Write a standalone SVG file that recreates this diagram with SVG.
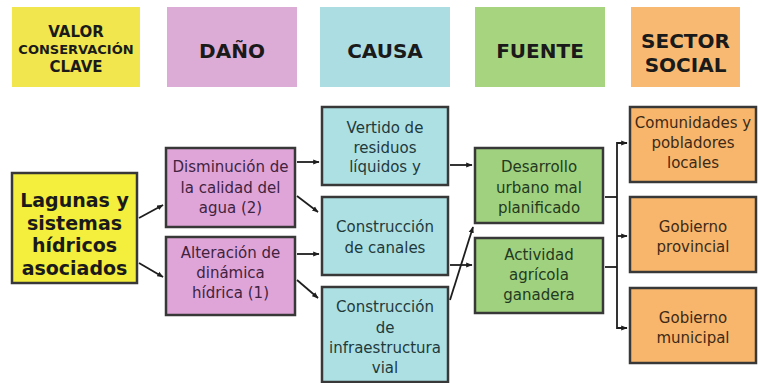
<svg xmlns="http://www.w3.org/2000/svg" width="758" height="383" viewBox="0 0 758 383">
<style>
text{font-family:"DejaVu Sans","Verdana",sans-serif;text-anchor:middle}
.h{font-weight:bold;fill:#1a1a1a}
.box{stroke:#383838;stroke-width:2.5}
.t{font-size:15px}
.pk{fill:#3f2340}.cy{fill:#1f3a3c}.gr{fill:#233a1f}.or{fill:#3d2a16}
.c{stroke:#1e1e1e;stroke-width:1.8;fill:none}
</style>
<defs>
<marker id="ah" viewBox="0 0 10 10" refX="9" refY="5" markerWidth="3.6" markerHeight="3.6" orient="auto" markerUnits="strokeWidth">
<path d="M0,1 L10,5 L0,9 z" fill="#1e1e1e"/>
</marker>
</defs>
<rect width="758" height="383" fill="#ffffff"/>
<g id="header-valor">
<rect x="12" y="7" width="128" height="80" fill="#f1e64d"/>
<text class="h" x="76" y="37" font-size="15">VALOR</text>
<text class="h" x="76" y="54" font-size="13">CONSERVACIÓN</text>
<text class="h" x="76" y="72" font-size="15">CLAVE</text>
</g>
<g id="header-dano">
<rect x="167" y="7" width="130" height="80" fill="#dcabd6"/>
<text class="h" x="232" y="58" font-size="20">DAÑO</text>
</g>
<g id="header-causa">
<rect x="320" y="7" width="130" height="80" fill="#acdde2"/>
<text class="h" x="385" y="58" font-size="20">CAUSA</text>
</g>
<g id="header-fuente">
<rect x="475" y="7" width="130" height="80" fill="#a7d47f"/>
<text class="h" x="540" y="58" font-size="20">FUENTE</text>
</g>
<g id="header-sector">
<rect x="631" y="7" width="109" height="80" fill="#f8ba72"/>
<text class="h" x="685.5" y="48" font-size="20">SECTOR</text>
<text class="h" x="685.5" y="72" font-size="20">SOCIAL</text>
</g>
<g id="lagunas">
<rect class="box" x="12" y="173" width="125" height="110" fill="#f4ee3c"/>
<text class="h" x="74.5" y="207" font-size="19">Lagunas y</text>
<text class="h" x="74.5" y="230" font-size="19">sistemas</text>
<text class="h" x="74.5" y="252" font-size="19">hídricos</text>
<text class="h" x="74.5" y="275" font-size="19">asociados</text>
</g>
<g id="disminucion">
<rect class="box" x="166" y="148" width="129" height="79" fill="#dfa5d8"/>
<text class="t pk" x="230.5" y="172">Disminución de</text>
<text class="t pk" x="230.5" y="193">la calidad del</text>
<text class="t pk" x="230.5" y="213">agua (2)</text>
</g>
<g id="alteracion">
<rect class="box" x="166" y="237" width="129" height="78" fill="#dfa5d8"/>
<text class="t pk" x="230.5" y="258">Alteración de</text>
<text class="t pk" x="230.5" y="278">dinámica</text>
<text class="t pk" x="230.5" y="298">hídrica (1)</text>
</g>
<g id="vertido">
<rect class="box" x="322" y="107" width="126" height="78" fill="#ade0e3"/>
<text class="t cy" x="385" y="133">Vertido de</text>
<text class="t cy" x="385" y="153">residuos</text>
<text class="t cy" x="385" y="172">líquidos y</text>
</g>
<g id="canales">
<rect class="box" x="322" y="197" width="126" height="78" fill="#ade0e3"/>
<text class="t cy" x="385" y="232">Construcción</text>
<text class="t cy" x="385" y="253">de canales</text>
</g>
<g id="infraestructura">
<rect class="box" x="322" y="287" width="126" height="95" fill="#ade0e3"/>
<text class="t cy" x="385" y="312">Construcción</text>
<text class="t cy" x="385" y="333">de</text>
<text class="t cy" x="385" y="353">infraestructura</text>
<text class="t cy" x="385" y="373">vial</text>
</g>
<g id="desarrollo">
<rect class="box" x="475" y="148" width="128" height="75" fill="#a0d17e"/>
<text class="t gr" x="539" y="172">Desarrollo</text>
<text class="t gr" x="539" y="193">urbano mal</text>
<text class="t gr" x="539" y="213">planificado</text>
</g>
<g id="actividad">
<rect class="box" x="475" y="238" width="128" height="75" fill="#a0d17e"/>
<text class="t gr" x="539" y="260">Actividad</text>
<text class="t gr" x="539" y="280">agrícola</text>
<text class="t gr" x="539" y="300">ganadera</text>
</g>
<g id="comunidades">
<rect class="box" x="630" y="107" width="126" height="75" fill="#f8b66d"/>
<text class="t or" x="693" y="128">Comunidades y</text>
<text class="t or" x="693" y="148">pobladores</text>
<text class="t or" x="693" y="168">locales</text>
</g>
<g id="provincial">
<rect class="box" x="630" y="197" width="126" height="75" fill="#f8b66d"/>
<text class="t or" x="693" y="232">Gobierno</text>
<text class="t or" x="693" y="252">provincial</text>
</g>
<g id="municipal">
<rect class="box" x="630" y="288" width="126" height="75" fill="#f8b66d"/>
<text class="t or" x="693" y="323">Gobierno</text>
<text class="t or" x="693" y="343">municipal</text>
</g>
<g id="connectors">
<line class="c" x1="139" y1="218" x2="163" y2="205" marker-end="url(#ah)"/>
<line class="c" x1="139" y1="263" x2="163" y2="277" marker-end="url(#ah)"/>
<line class="c" x1="297" y1="162" x2="319" y2="162" marker-end="url(#ah)"/>
<line class="c" x1="297" y1="196" x2="318" y2="212" marker-end="url(#ah)"/>
<line class="c" x1="297" y1="254" x2="319" y2="254" marker-end="url(#ah)"/>
<line class="c" x1="297" y1="280" x2="318" y2="298" marker-end="url(#ah)"/>
<line class="c" x1="450" y1="165" x2="472" y2="165" marker-end="url(#ah)"/>
<line class="c" x1="450" y1="265" x2="472" y2="265" marker-end="url(#ah)"/>
<line class="c" x1="450" y1="300" x2="473" y2="227" marker-end="url(#ah)"/>
<polyline class="c" points="605,197 617,197"/>
<polyline class="c" points="605,267 617,267"/>
<polyline class="c" points="627,143 617,143 617,328 627,328" marker-end="url(#ah)"/>
<line class="c" x1="617" y1="143" x2="627" y2="143" marker-end="url(#ah)"/>
<line class="c" x1="617" y1="236" x2="627" y2="236" marker-end="url(#ah)"/>
</g>
</svg>
